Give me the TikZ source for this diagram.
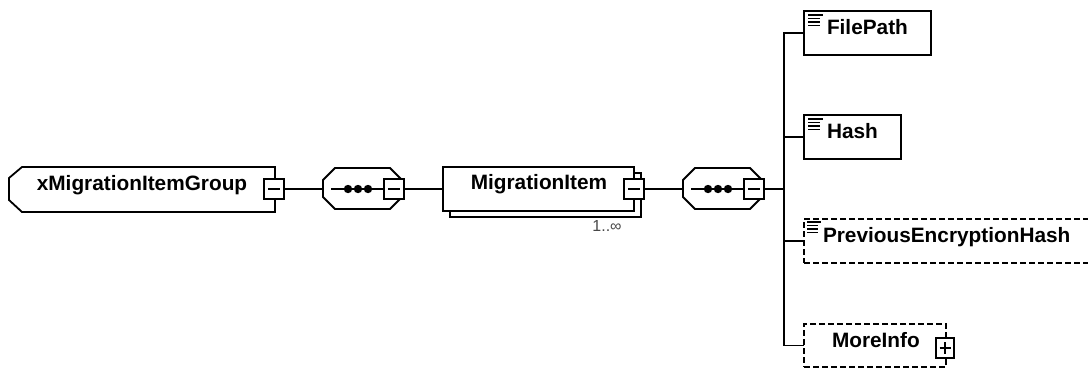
\documentclass[tikz,border=0pt]{standalone}
\usepackage{fontspec}
\setmainfont{Liberation Sans}
\begin{document}
\begin{tikzpicture}[x=1pt,y=-1pt,line width=1.8pt,line join=miter,
  every node/.style={inner sep=0pt,outer sep=0pt},
  elbox/.style={draw,fill=white},
  optbox/.style={draw,dashed,dash pattern=on 6pt off 3pt,fill=white},
  ghost/.style={draw=none},
  lbl/.style={font=\bfseries\fontsize{20.8}{24}\selectfont,anchor=base west},
  minusbox/.style={draw,fill=white,minimum width=20pt,minimum height=20pt,
    path picture={\draw[line width=1.4pt] ([xshift=4pt]path picture bounding box.west) -- ([xshift=-4pt]path picture bounding box.east);}},
  plusbox/.style={draw,fill=white,minimum width=18pt,minimum height=20pt,
    path picture={\draw[line width=1.4pt] ([xshift=3.5pt]path picture bounding box.west) -- ([xshift=-3.5pt]path picture bounding box.east)
      ([yshift=-4pt]path picture bounding box.north) -- ([yshift=4pt]path picture bounding box.south);}},
  iconline/.style={line width=1.3pt},
  dotfill/.style={fill=black}
]
\useasboundingbox (0,0) rectangle (1088,368);

% group element
\node[ghost,minimum width=266pt,minimum height=45pt] (grp) at (142,189.5) {};
\draw (22,167) -- (275,167) -- (275,212) -- (22,212) -- (9,200) -- (9,178) -- cycle;
\node[lbl,anchor=base] (grpt) at (142,190.5) {xMigrationItemGroup};
\node[minusbox] (m1) at (274,189) {};

% sequence 1
\node[ghost,minimum width=79pt,minimum height=41pt] (s1) at (362.5,189) {};
\draw (335,168) -- (390,168) -- (402,180) -- (402,197) -- (390,209) -- (335,209) -- (323,197) -- (323,180) -- cycle;
\node[minusbox] (m2) at (394,189) {};
\coordinate (s1in) at (331,189);
\draw (s1in) -- (m2.west);
\fill[dotfill] (348,189) circle (4.2pt) (358,189) circle (4.2pt) (368,189) circle (4.2pt);

% MigrationItem
\node[elbox,minimum width=191pt,minimum height=44pt] (mis) at (545.5,195) {};
\node[elbox,minimum width=191pt,minimum height=44pt] (mi) at (538.5,189) {};
\node[lbl,anchor=base] (mit) at (539,189.5) {MigrationItem};
\node[minusbox] (m3) at (634,189) {};
\node[font=\fontsize{16}{19}\selectfont,text=black!72] (card) at (607,226) {1..∞};

% sequence 2
\node[ghost,minimum width=79pt,minimum height=41pt] (s2) at (722.5,189) {};
\draw (695,168) -- (750,168) -- (762,180) -- (762,197) -- (750,209) -- (695,209) -- (683,197) -- (683,180) -- cycle;
\node[minusbox] (m4) at (754,189) {};
\coordinate (s2in) at (691,189);
\draw (s2in) -- (m4.west);
\fill[dotfill] (708,189) circle (4.2pt) (718,189) circle (4.2pt) (728,189) circle (4.2pt);

% children
\node[elbox,minimum width=127pt,minimum height=44pt] (fp) at (867.5,33) {};
\node[lbl] (fpt) at (827,34) {FilePath};
\draw[iconline,shift={(808,15)}] (0,0) -- (15,0) (0,3.5) -- (12,3.5) (0,7) -- (12,7) (0,10.5) -- (12,10.5);

\node[elbox,minimum width=97pt,minimum height=44pt] (hash) at (852.5,137) {};
\node[lbl] (hasht) at (827,138) {Hash};
\draw[iconline,shift={(808,119)}] (0,0) -- (15,0) (0,3.5) -- (12,3.5) (0,7) -- (12,7) (0,10.5) -- (12,10.5);

\node[optbox,minimum width=296pt,minimum height=44pt] (prev) at (952,241) {};
\node[lbl] (prevt) at (823,242) {PreviousEncryptionHash};
\draw[iconline,shift={(807,222)}] (0,0) -- (14,0) (0,3.5) -- (11,3.5) (0,7) -- (11,7) (0,10.5) -- (11,10.5);

\node[optbox,minimum width=142pt,minimum height=43pt] (more) at (875,345.5) {};
\node[lbl] (moret) at (832,347) {MoreInfo};
\node[plusbox] (pl) at (945,348) {};

% connectors
\draw (m1.east) -- (s1.west);
\draw (m2.east) -- (mi.west);
\draw (m3.east) -- (s2.west);
\coordinate (bus) at (784,189);
\draw (m4.east) -- (bus);
\draw (fp.west) -| (bus) |- (more.west);
\draw (bus) |- (hash.west);
\draw (bus) |- (prev.west);
\end{tikzpicture}
\end{document}
